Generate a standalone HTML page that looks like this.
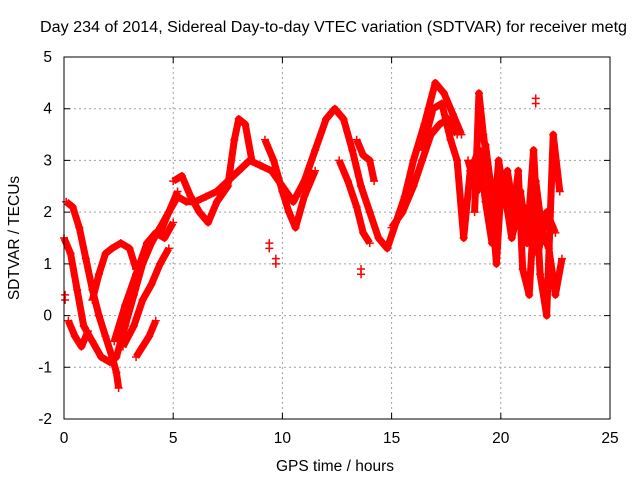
<!DOCTYPE html>
<html><head><meta charset="utf-8"><style>
body{margin:0;background:#fff;font-family:"Liberation Sans",sans-serif}
svg text{font-family:"Liberation Sans",sans-serif;font-size:15.5px;fill:#000}
</style></head><body>
<svg id="c" width="640" height="480" xmlns="http://www.w3.org/2000/svg">
<text x="40" y="32" textLength="587" lengthAdjust="spacingAndGlyphs">Day 234 of 2014, Sidereal Day-to-day VTEC variation (SDTVAR) for receiver metg</text>
<text x="335" y="471" text-anchor="middle">GPS time / hours</text>
<text transform="translate(19,238) rotate(-90)" text-anchor="middle">SDTVAR / TECUs</text>
<g id="grid"></g><g id="marks"></g><g id="axes"></g>
</svg>
<script>
const xTicks=[0,5,10,15,20,25];
const yTicks=[-2,-1,0,1,2,3,4,5];
const track1T=[0.1,0.4,0.7,1.0,1.3,1.6,1.9,2.2,2.4,2.5];
const track1V=[2.2,2.1,1.7,1.1,0.5,0.0,-0.4,-0.8,-1.1,-1.4];
const track2T=[0.0,0.3,0.6,0.9,1.3,1.7,2.1,2.4,2.8,3.2,3.6,4.0,4.4,4.8,5.2];
const track2V=[1.5,1.2,0.5,-0.2,-0.5,-0.8,-0.9,-0.8,-0.2,0.4,1.0,1.4,1.7,2.0,2.4];
const track3T=[1.3,1.6,1.9,2.2,2.6,3.0,3.3];
const track3V=[0.3,0.8,1.2,1.3,1.4,1.3,0.9];
const track4T=[2.3,2.8,3.3,3.8,4.2,4.6,5.0];
const track4V=[-0.5,0.2,0.8,1.4,1.6,1.5,1.8];
const track5T=[2.7,3.2,3.6,4.0,4.4,4.8];
const track5V=[-0.6,-0.2,0.3,0.6,1.0,1.3];
const track6T=[3.3,3.6,3.9,4.2];
const track6V=[-0.8,-0.6,-0.4,-0.1];
const track7T=[0.2,0.5,0.8,1.1];
const track7V=[-0.1,-0.4,-0.6,-0.3];
const mainT=[4.4,4.8,5.2,5.6,6.0,6.5,7.0,7.5,8.0,8.5,9.0,9.5,10.0,10.5,11.0,11.5,12.0,12.4,12.8,13.2,13.6,14.0,14.4,14.8,15.2,15.6,16.0,16.5,17.0,17.4,17.8,18.2];
const mainV=[1.6,2.0,2.3,2.2,2.2,2.3,2.4,2.6,2.8,3.0,2.9,2.8,2.5,2.2,2.6,3.2,3.8,4.0,3.8,3.2,2.5,2.0,1.5,1.3,1.8,2.3,3.0,3.7,4.5,4.3,3.9,3.5];
const track8T=[5.0,5.4,5.8,6.2,6.6,7.0,7.5,7.8,8.0,8.3,8.6];
const track8V=[2.6,2.7,2.3,2.0,1.8,2.2,2.5,3.4,3.8,3.7,3.0];
const track9T=[9.2,9.6,10.0,10.3,10.6,11.0,11.5];
const track9V=[3.4,3.0,2.4,2.0,1.7,2.3,2.8];
const track10T=[12.6,13.0,13.4,13.7,14.0];
const track10V=[3.0,2.6,2.1,1.6,1.4];
const track11T=[13.4,13.7,14.0,14.2];
const track11V=[3.4,3.1,3.0,2.6];
const track12T=[15.0,15.5,16.0,16.4,16.8,17.2,17.6,18.0];
const track12V=[1.7,2.0,2.5,3.0,3.5,3.7,3.8,3.5];
const track13T=[16.4,16.9,17.3,17.7,18.0,18.3,18.6,19.0,19.3,19.6,19.9,20.2,20.5,20.8,21.0,21.3,21.6,21.9,22.2,22.5,22.8];
const track13V=[3.2,4.0,4.1,3.4,3.0,1.5,2.8,3.2,2.2,1.4,3.0,2.2,1.7,2.8,0.9,0.4,2.6,1.6,1.3,0.4,1.1];
const track14T=[18.8,19.0,19.2,19.5,19.8,20.0,20.3,20.6,20.9,21.2,21.5,21.8,22.1,22.4,22.7];
const track14V=[2.0,4.3,3.5,2.6,1.0,2.4,2.8,2.0,2.4,1.4,3.2,0.8,0.0,3.5,2.4];
const track15T=[18.5,18.9,19.3,19.7,20.1,20.5,20.9,21.3,21.7,22.1,22.5];
const track15V=[3.0,2.4,3.3,2.0,2.6,1.5,2.2,1.9,1.2,2.0,1.6];
const isoT=[9.4,9.7,13.6,21.6,0.05];
const isoV=[1.3,1.0,0.8,4.1,0.3];
const tracks=[[track1T,track1V],[track2T,track2V],[track3T,track3V],[track4T,track4V],[track5T,track5V],[track6T,track6V],[track7T,track7V],[mainT,mainV],[track8T,track8V],[track9T,track9V],[track10T,track10V],[track11T,track11V],[track12T,track12V],[track13T,track13V],[track14T,track14V],[track15T,track15V]];
const X0=64,X1=610,Y0=419,Y1=57;
const xs=t=>X0+(t-0)/(25-0)*(X1-X0);
const ys=v=>Y0-(v-(-2))/(5-(-2))*(Y0-Y1);
const NS="http://www.w3.org/2000/svg";
function mk(tag,parent){const e=document.createElementNS(NS,tag);parent.appendChild(e);return e;}
const grid=document.getElementById('grid'),marks=document.getElementById('marks'),axes=document.getElementById('axes');
xTicks.forEach(t=>{
 const x=xs(t);
 if(t>0&&t<25){const l=mk('line',grid);
 
 
 l.setAttribute('x1',x);l.setAttribute('x2',x);l.setAttribute('y1',Y1);l.setAttribute('y2',Y0);
 l.setAttribute('stroke','#a0a0a0');l.setAttribute('stroke-dasharray','2,3');}
 const tk=mk('path',axes);
 
 
 tk.setAttribute('d',`M${x},${Y0}v-6M${x},${Y1}v6`);tk.setAttribute('stroke','#000');
 const tx=mk('text',axes);
 
 
 tx.setAttribute('x',x);tx.setAttribute('y',443);tx.setAttribute('text-anchor','middle');tx.textContent=t;
});
yTicks.forEach(v=>{
 const y=ys(v);
 if(v>-2&&v<5){const l=mk('line',grid);
 
 
 l.setAttribute('x1',X0);l.setAttribute('x2',X1);l.setAttribute('y1',y);l.setAttribute('y2',y);
 l.setAttribute('stroke','#a0a0a0');l.setAttribute('stroke-dasharray','2,3');}
 const tk=mk('path',axes);
 
 
 tk.setAttribute('d',`M${X0},${y}h6M${X1},${y}h-6`);tk.setAttribute('stroke','#000');
 const tx=mk('text',axes);
 
 
 tx.setAttribute('x',52);tx.setAttribute('y',y+5);tx.setAttribute('text-anchor','end');tx.textContent=v;
});
const fr=mk('rect',axes);


fr.setAttribute('x',X0);fr.setAttribute('y',Y1);fr.setAttribute('width',X1-X0);fr.setAttribute('height',Y0-Y1);
fr.setAttribute('fill','none');fr.setAttribute('stroke','#000');
function plus(t,v){
 const p=mk('path',marks);
 
 
 const x=xs(t),y=ys(v);
 p.setAttribute('d',`M${x-4},${y}h8M${x},${y-4}v8`);p.setAttribute('stroke','#f00');p.setAttribute('stroke-width','1.5');
}
tracks.forEach(([T,V])=>{
 const pl=mk('polyline',marks);
 
 
 pl.setAttribute('points',T.map((t,i)=>xs(t)+','+ys(V[i])).join(' '));
 pl.setAttribute('fill','none');pl.setAttribute('stroke','#f00');pl.setAttribute('stroke-width','7');pl.setAttribute('stroke-linejoin','round');
 T.forEach((t,i)=>plus(t,V[i]));
});
isoT.forEach((t,i)=>{plus(t,isoV[i]);plus(t,isoV[i]+0.1);});
</script>
</body></html>
